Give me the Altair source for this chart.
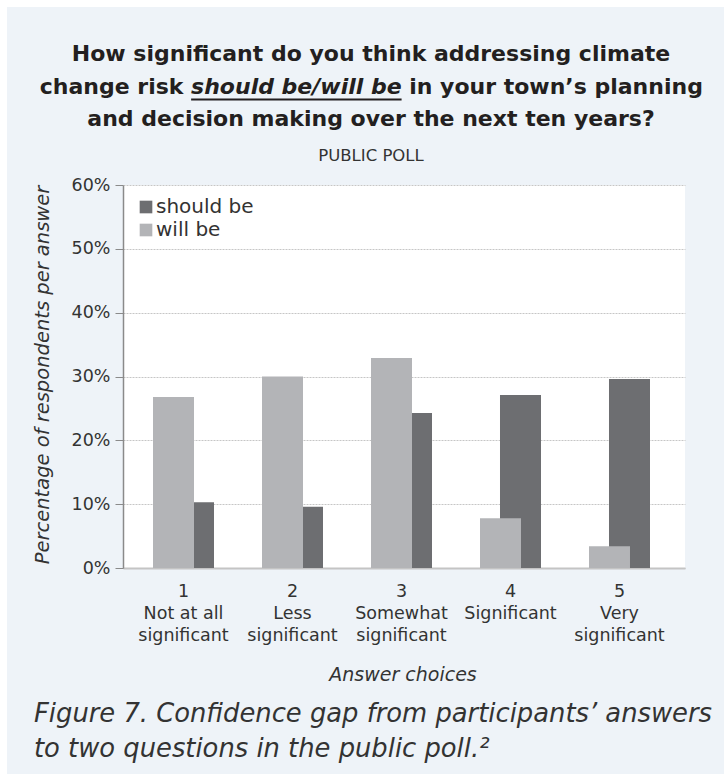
import altair as alt
import pandas as pd

# ---- data -------------------------------------------------------------
categories = [
    "1|Not at all|significant",
    "2|Less|significant",
    "3|Somewhat|significant",
    "4|Significant",
    "5|Very|significant",
]
should_be = [10.3, 9.6, 24.3, 27.1, 29.6]
will_be = [26.8, 30.0, 32.9, 7.8, 3.4]
series_names = ["should be", "will be"]
series_colors = ["#6d6e71", "#b3b4b7"]

df = pd.DataFrame({
    "choice": categories * 2,
    "series": [series_names[0]] * len(categories) + [series_names[1]] * len(categories),
    "pct": should_be + will_be,
})

# ---- layout -----------------------------------------------------------
W, H = 724, 774
PLOT_L, PLOT_T, PLOT_R, PLOT_B = 123, 185, 685, 568
FONT = "DejaVu Sans"
TEXT = "#333333"
BG = "#eef3f8"

# DejaVu Sans Bold advance widths (em) for the header's mixed-style line
BOLD_W = {
    " ": .348, "a": .675, "b": .716, "c": .593, "d": .716, "e": .678, "g": .716,
    "h": .712, "i": .343, "k": .665, "l": .343, "n": .712, "o": .687, "p": .716,
    "r": .493, "s": .595, "t": .478, "u": .712, "w": .924, "y": .652, "/": .365,
    "’": .348,
}


def measure(s, size):
    return sum(BOLD_W.get(ch, .65) for ch in s) * size


def px(xa):
    return xa - PLOT_L


def py(ya):
    return ya - PLOT_T


one_row = pd.DataFrame({"k": [0]})


def label(text, xa, ya, size, **kw):
    props = dict(font=FONT, fontSize=size, color=TEXT, align="center",
                 baseline="alphabetic", text=text)
    props.update(kw)
    return alt.Chart(one_row).mark_text(**props).encode(
        x=alt.value(px(xa)), y=alt.value(py(ya)))


# ---- bars ---------------------------------------------------------------
x_enc = alt.X(
    "choice:N", sort=categories,
    scale=alt.Scale(paddingInner=0, paddingOuter=0.078, align=0.353),
    axis=alt.Axis(
        title=None, labelExpr="split(datum.label, '|')", labelAngle=0,
        labelFont=FONT, labelFontSize=17.5, labelLineHeight=22,
        labelColor=TEXT, labelPadding=28, labelBaseline="alphabetic",
        ticks=False, tickSize=0, domainColor="#c4c4c4", domainWidth=2,
    ),
)
y_enc = alt.Y(
    "pct:Q", scale=alt.Scale(domain=[0, 60], nice=False),
    axis=alt.Axis(
        title=None, values=[0, 10, 20, 30, 40, 50, 60],
        labelExpr="datum.value + '%'", labelFont=FONT, labelFontSize=17.5,
        labelColor=TEXT, labelPadding=5, tickSize=8, tickColor="#8a8a8a",
        domainColor="#8a8a8a", domainWidth=1.5, grid=True,
        gridColor="#c6c6c6", gridDash=[2, 1], gridWidth=1,
    ),
)
color_enc = alt.Color(
    "series:N",
    scale=alt.Scale(domain=series_names, range=series_colors),
    legend=alt.Legend(
        title=None, orient="none", legendX=13, legendY=12, padding=0,
        symbolType="square", symbolSize=160, symbolStrokeWidth=0,
        symbolOpacity=1, labelFont=FONT, labelFontSize=20, labelColor=TEXT,
        labelOffset=0, rowPadding=3,
    ),
)

should_layer = alt.Chart(df).transform_filter(
    alt.datum.series == series_names[0]
).mark_bar(width=41, xOffset=10).encode(x=x_enc, y=y_enc, color=color_enc)

will_layer = alt.Chart(df).transform_filter(
    alt.datum.series == series_names[1]
).mark_bar(width=41, xOffset=-10).encode(x=x_enc, y=y_enc, color=color_enc)

# ---- frame strips ---------------------------------------------------------
strip_top = alt.Chart(one_row).mark_rect(color="white").encode(
    x=alt.value(px(0)), x2=alt.value(px(W)),
    y=alt.value(py(0)), y2=alt.value(py(7)))
strip_left = alt.Chart(one_row).mark_rect(color="white").encode(
    x=alt.value(px(0)), x2=alt.value(px(7)),
    y=alt.value(py(0)), y2=alt.value(py(H)))

# ---- header ---------------------------------------------------------------
CX = 371
TSIZE = 22
TCOLOR = "#231f20"
seg1, seg2, seg3 = "change risk", "should be/will be", "in your town’s planning"
sp = measure(" ", TSIZE)
w1, w2, w3 = measure(seg1, TSIZE), measure(seg2, TSIZE), measure(seg3, TSIZE)
start = CX - (w1 + w2 + w3 + 2 * sp) / 2
x_it = start + w1 + sp

title_kw = dict(fontWeight="bold", color=TCOLOR)
header = [
    label("How significant do you think addressing climate", CX, 61, TSIZE, **title_kw),
    label(seg1, start, 93.5, TSIZE, align="left", **title_kw),
    label(seg2, x_it, 93.5, TSIZE, align="left", fontStyle="italic", **title_kw),
    label(seg3, x_it + w2 + sp, 93.5, TSIZE, align="left", **title_kw),
    alt.Chart(one_row).mark_rule(color=TCOLOR, strokeWidth=2).encode(
        x=alt.value(px(x_it)), x2=alt.value(px(x_it + w2)),
        y=alt.value(py(99.5))),
    label("and decision making over the next ten years?", CX, 126, TSIZE, **title_kw),
    label("PUBLIC POLL", CX, 161, 16.5),
]

# ---- axis titles and caption -------------------------------------------------
annotations = [
    label("Percentage of respondents per answer", 43, 375, 19.5,
          angle=270, baseline="middle", fontStyle="italic"),
    label("Answer choices", 403, 681, 19, fontStyle="italic"),
    label("Figure 7. Confidence gap from participants’ answers", 34, 722, 25.8,
          align="left", fontStyle="italic"),
    label("to two questions in the public poll.²", 34, 757, 25.8,
          align="left", fontStyle="italic"),
]

chart = alt.layer(
    strip_top, strip_left, should_layer, will_layer, *header, *annotations
).properties(
    width=PLOT_R - PLOT_L,
    height=PLOT_B - PLOT_T,
    background=BG,
    padding={"left": PLOT_L, "top": PLOT_T, "right": W - PLOT_R, "bottom": H - PLOT_B},
    autosize=alt.AutoSizeParams(type="none"),
).configure_view(fill="white", stroke=None)

chart.save("out.html", embed_options={"renderer": "svg", "actions": False})
